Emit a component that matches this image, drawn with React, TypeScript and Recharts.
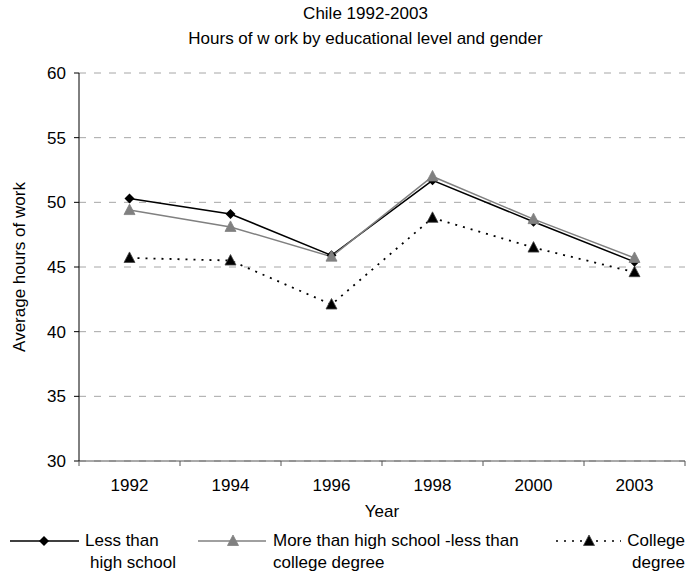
import React from "react";
import { LineChart, Line, XAxis, YAxis, CartesianGrid } from "recharts";

const years = ["1992", "1994", "1996", "1998", "2000", "2003"];
const lessThanHighSchool = [50.3, 49.1, 45.9, 51.7, 48.5, 45.4];
const someCollege = [49.4, 48.1, 45.8, 52.0, 48.7, 45.7];
const collegeDegree = [45.7, 45.5, 42.1, 48.8, 46.5, 44.6];
const yTicks = [30, 35, 40, 45, 50, 55, 60];

// category centres sit half way between the boundary ticks, Excel style
const data = years.map((year, i) => ({
  year,
  pos: i + 0.5,
  less: lessThanHighSchool[i],
  some: someCollege[i],
  college: collegeDegree[i],
}));
const xTicks: number[] = [];
for (let i = 0; i <= years.length * 2; i++) xTicks.push(i / 2);

const FONT = "Arial, 'Liberation Sans', sans-serif";

function Diamond({ cx, cy }: any) {
  if (cx == null || cy == null) return null;
  const r = 5;
  return (
    <path
      d={`M${cx},${cy - r}L${cx + r},${cy}L${cx},${cy + r}L${cx - r},${cy}Z`}
      fill="#000"
    />
  );
}

function Triangle({ cx, cy, fill, stroke }: any) {
  if (cx == null || cy == null) return null;
  return (
    <path
      d={`M${cx},${cy - 6}L${cx + 5.5},${cy + 4.5}L${cx - 5.5},${cy + 4.5}Z`}
      fill={fill}
      stroke={stroke}
      strokeWidth={0.8}
    />
  );
}

function YearTick({ x, y, payload }: any) {
  const v = payload.value as number;
  if (Number.isInteger(v)) {
    return <line x1={x} x2={x} y1={y - 18} y2={y - 13} stroke="#555" />;
  }
  return (
    <text x={x} y={y} dy="0.71em" textAnchor="middle" fontSize={17} fontFamily={FONT} fill="#000">
      {years[Math.floor(v)]}
    </text>
  );
}

const legendText: React.CSSProperties = {
  position: "absolute",
  fontSize: 17,
  fontFamily: FONT,
  lineHeight: "22px",
  color: "#000",
  whiteSpace: "nowrap",
};

function LegendRow() {
  return (
    <div style={{ position: "absolute", left: 0, top: 528, width: 689, height: 50 }}>
      <svg width={689} height={30} style={{ position: "absolute", left: 0, top: 0 }}>
        <line x1={10} x2={79} y1={13} y2={13} stroke="#000" strokeWidth={1.5} />
        <Diamond cx={44} cy={13} />
        <line x1={198} x2={266} y1={13} y2={13} stroke="#808080" strokeWidth={1.5} />
        <Triangle cx={233} cy={13} fill="#808080" stroke="#808080" />
        <line x1={556} x2={621} y1={13} y2={13} stroke="#000" strokeWidth={1.5} strokeDasharray="2 6" />
        <Triangle cx={589} cy={13} fill="#000" stroke="#444" />
      </svg>
      <div style={{ ...legendText, left: 85, top: 2 }}>Less than</div>
      <div style={{ ...legendText, left: 90, top: 24 }}>high school</div>
      <div style={{ ...legendText, left: 273, top: 2 }}>More than high school -less than</div>
      <div style={{ ...legendText, left: 273, top: 24 }}>college degree</div>
      <div style={{ ...legendText, right: 4, top: 2, textAlign: "right" }}>College</div>
      <div style={{ ...legendText, right: 4, top: 24, textAlign: "right" }}>degree</div>
    </div>
  );
}

export default function App() {
  return (
    <div style={{ position: "absolute", left: 0, top: 0, width: 689, height: 581, background: "#fff" }}>
      <div style={{ position: "absolute", left: 0, top: 1, width: 731, textAlign: "center", fontFamily: FONT, fontSize: 17, lineHeight: "25px" }}>
        Chile 1992-2003
        <br />
        Hours of w ork by educational level and gender
      </div>
      <div
        style={{
          position: "absolute",
          left: 20,
          top: 267,
          transform: "translate(-50%, -50%) rotate(-90deg)",
          fontFamily: FONT,
          fontSize: 17,
          whiteSpace: "nowrap",
        }}
      >
        Average hours of work
      </div>
      <div style={{ position: "absolute", left: 0, top: 502, width: 764, textAlign: "center", fontFamily: FONT, fontSize: 17 }}>
        Year
      </div>
      <LineChart
        width={689}
        height={581}
        data={data}
        margin={{ top: 73, right: 4, bottom: 90, left: 0 }}
      >
        <CartesianGrid horizontal vertical={false} stroke="#a6a6a6" strokeDasharray="7 8" />
        <XAxis
          dataKey="pos"
          type="number"
          domain={[0, years.length]}
          ticks={xTicks}
          interval={0}
          tick={<YearTick />}
          tickLine={false}
          tickSize={5}
          tickMargin={13}
          stroke="#555"
          height={30}
        />
        <YAxis
          domain={[30, 60]}
          ticks={yTicks}
          interval={0}
          width={79}
          tickSize={5}
          tickMargin={8}
          stroke="#000"
          tick={{ fill: "#000", fontSize: 17, fontFamily: FONT }}
        />
        <Line
          dataKey="college"
          stroke="#000"
          strokeWidth={1.8}
          strokeDasharray="2 6"
          dot={(p: any) => <Triangle key={p.index} {...p} fill="#000" stroke="#444" />}
          isAnimationActive={false}
        />
        <Line
          dataKey="less"
          stroke="#000"
          strokeWidth={1.5}
          dot={(p: any) => <Diamond key={p.index} {...p} />}
          isAnimationActive={false}
        />
        <Line
          dataKey="some"
          stroke="#808080"
          strokeWidth={1.5}
          dot={(p: any) => <Triangle key={p.index} {...p} fill="#808080" stroke="#808080" />}
          isAnimationActive={false}
        />
      </LineChart>
      <LegendRow />
    </div>
  );
}
